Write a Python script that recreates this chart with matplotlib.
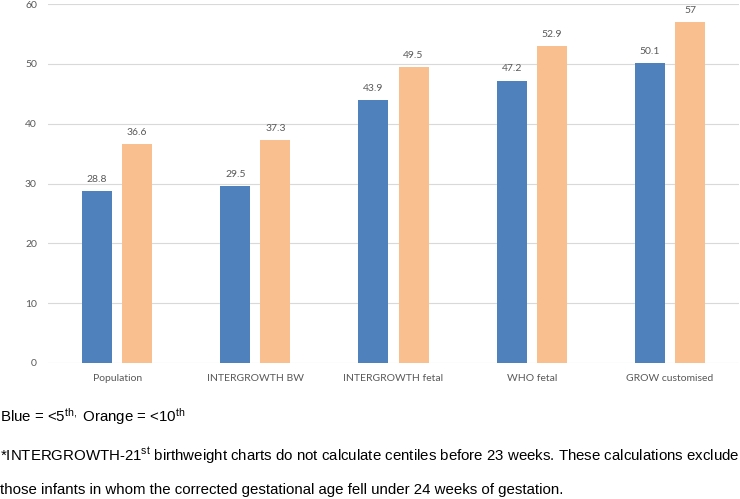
import numpy as np
import matplotlib.pyplot as plt

categories = ["Population", "INTERGROWTH BW", "INTERGROWTH fetal", "WHO fetal", "GROW customised"]
below_5th = [28.8, 29.5, 43.9, 47.2, 50.1]
below_10th = [36.6, 37.3, 49.5, 52.9, 57]
value_labels_5 = ["28.8", "29.5", "43.9", "47.2", "50.1"]
value_labels_10 = ["36.6", "37.3", "49.5", "52.9", "57"]

blue = "#4F81BD"
orange = "#F9BF8F"
grey = "#595959"

fig = plt.figure(figsize=(7.4, 4.99), dpi=100)
ax = fig.add_axes([48/740, 136/499, 691/740, 359/499])

x = np.arange(len(categories))
w = 0.217
ax.bar(x - 0.145, below_5th, w, color=blue)
ax.bar(x + 0.145, below_10th, w, color=orange)

for xi, v, s in zip(x, below_5th, value_labels_5):
    ax.text(xi - 0.145, v + 1.2, s, ha="center", va="bottom", fontsize=7.5, color=grey, family="Lato")
for xi, v, s in zip(x, below_10th, value_labels_10):
    ax.text(xi + 0.145, v + 1.2, s, ha="center", va="bottom", fontsize=7.5, color=grey, family="Lato")

ax.set_xlim(-0.5, len(categories) - 0.5)
ax.set_ylim(0, 60)
ax.set_yticks(range(0, 61, 10))
ax.set_xticks(x)
ax.set_xticklabels(categories)
ax.yaxis.grid(True, color="#D9D9D9", linewidth=0.8)
ax.set_axisbelow(True)
for sp in ax.spines.values():
    sp.set_visible(False)
ax.tick_params(length=0, labelsize=7.5, colors=grey, pad=8)
for lab in ax.get_xticklabels() + ax.get_yticklabels():
    lab.set_family("Lato")

fig.text(0.0, 1 - 417/499, r"Blue = <5$\mathregular{^{th,}}$ Orange = <10$\mathregular{^{th}}$",
         fontsize=10.8, family="Liberation Sans", va="center", ha="left")
fig.text(0.0, 1 - 456/499,
         r"*INTERGROWTH-21$\mathregular{^{st}}$ birthweight charts do not calculate centiles before 23 weeks. These calculations exclude",
         fontsize=10.8, family="Liberation Sans", va="center", ha="left")
fig.text(0.0, 1 - 490/499,
         "those infants in whom the corrected gestational age fell under 24 weeks of gestation.",
         fontsize=10.8, family="Liberation Sans", va="center", ha="left")

fig.savefig("out.png", dpi=100)
